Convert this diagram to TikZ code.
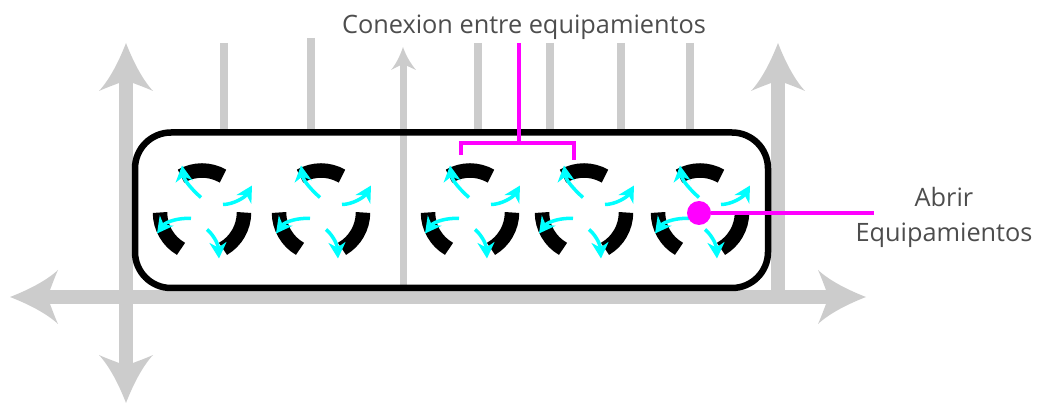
\documentclass[tikz,border=0pt]{standalone}
\usepackage{fontspec}
\setmainfont{Open Sans}
\usetikzlibrary{arrows.meta}
\definecolor{axisgrey}{HTML}{CCCCCC}
\definecolor{textgrey}{HTML}{4D4D4D}
\definecolor{linkpink}{HTML}{FF00FF}
\definecolor{flowcyan}{HTML}{00FFFF}
\tikzstyle{mainaxis} = [draw=axisgrey,line width=14.5pt]
\tikzstyle{sideline} = [draw=axisgrey,line width=8pt]
\tikzstyle{housing} = [draw=black,line width=6.5pt,rounded corners=36pt]
\tikzstyle{segment} = [draw=black,line width=14.5pt,y=1pt]
\tikzstyle{flow} = [draw=flowcyan,line width=3.5pt,-{Stealth[length=16pt,width=17pt,inset=5pt]}]
\tikzstyle{link} = [draw=linkpink,line width=4pt]
\tikzstyle{caption} = [text=textgrey,font=\fontsize{25.3}{35}\selectfont,align=center,inner sep=0pt]
\newcommand{\axishead}[2]{
	\fill[axisgrey,shift={(#1)},rotate=#2] (0,0) .. controls (7,18) and (16,36) .. (27,48) .. controls (18,44) and (12,42) .. (7,40) -- (-7,40) .. controls (-12,42) and (-18,44) .. (-27,48) .. controls (-16,36) and (-7,18) .. (0,0) -- cycle;
}
\newcommand{\equipment}[2]{
	\coordinate (#2) at (#1,212.5);
	\begin{scope}[shift={(#2)}]
		\draw[segment] (60:42) arc (60:120:42);
		\draw[segment] (180:42) arc (180:240:42);
		\draw[segment] (300:42) arc (300:360:42);
		\draw[flow] (-1,-15) .. controls (-9,-22) and (-18,-32) .. (-20,-47);
		\draw[flow] (21,-8) .. controls (31,-8) and (43,-15) .. (50,-27);
		\draw[flow] (-11,6) .. controls (-22,5) and (-36,9) .. (-45,21);
		\draw[flow] (5,17) .. controls (10,21) and (16,30) .. (17,46);
	\end{scope}
}

\begin{document}
\begin{tikzpicture}[x=1pt,y=-1pt]
	\useasboundingbox (0,0) rectangle (1039,403);

	% grey street lines
	\coordinate (north1) at (126,80);
	\coordinate (south1) at (126,370);
	\coordinate (west1) at (50,297);
	\coordinate (east1) at (826,297);
	\coordinate (north2) at (778,80);
	\coordinate (corner2) at (778,297);
	\coordinate (north3) at (403,60);
	\coordinate (south3) at (403,290);
	\draw[mainaxis] (north1) -- (south1);
	\draw[mainaxis] (west1) -- (east1);
	\draw[mainaxis] (north2) -- (corner2);
	\draw[axisgrey,line width=7pt] (north3) -- (south3);
	\axishead{126,43}{0}
	\axishead{126,403}{180}
	\axishead{10,297}{90}
	\axishead{866,297}{-90}
	\axishead{778,43}{0}
	\fill[axisgrey] (403,47) .. controls (406,56) and (411,64) .. (416,70) -- (403,64) -- (391,70) .. controls (396,64) and (400,56) .. (403,47) -- cycle;
	\foreach \name/\x/\top in {a/224/43,b/311/38,c/478/43,d/550/43,e/621/43,f/690/43}{
		\coordinate (side\name top) at (\x,\top);
		\coordinate (side\name end) at (\x,130);
		\draw[sideline] (side\name top) -- (side\name end);
	}

	% the block
	\coordinate (blockNW) at (135,132.5);
	\coordinate (blockSE) at (768,288);
	\draw[housing] (blockNW) rectangle (blockSE);

	\equipment{202}{eq1}
	\equipment{321}{eq2}
	\equipment{470}{eq3}
	\equipment{584}{eq4}
	\equipment{700}{eq5}

	% labels and links
	\node(title) at (524,27) [caption] {Conexion entre equipamientos};
	\node(open) at (944,217) [caption] {Abrir\\Equipamientos};
	\node(dot) at (699,213) [circle,fill=linkpink,minimum size=24pt,inner sep=0pt] {};
	\coordinate (titlefoot) at (519,43);
	\coordinate (split) at (519,143);
	\coordinate (leftfoot) at (461,155);
	\coordinate (rightfoot) at (574,160);
	\coordinate (openend) at (874,213);
	\draw[link] (titlefoot) -- (split);
	\draw[link] (leftfoot) |- (split) -| (rightfoot);
	\draw[link] (dot) -- (openend);
\end{tikzpicture}
\end{document}
